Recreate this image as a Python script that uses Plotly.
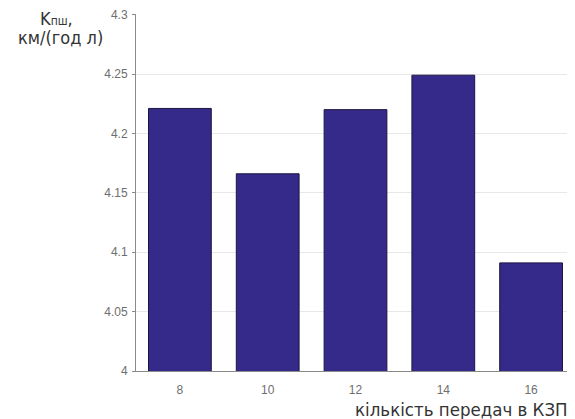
import plotly.graph_objects as go

gears = [8, 10, 12, 14, 16]
kpsh = [4.221, 4.166, 4.220, 4.249, 4.091]
y_ticks = [4.0, 4.05, 4.1, 4.15, 4.2, 4.25, 4.3]
y_tick_labels = ["4", "4.05", "4.1", "4.15", "4.2", "4.25", "4.3"]
x_title = "кількість передач в КЗП"
y_title_1 = "K<span style='font-size:12px'>пш</span>,"
y_title_2 = "км/(год л)"

fig = go.Figure(go.Bar(
    x=gears, y=kpsh, width=1.43,
    marker=dict(color="#35298a", line=dict(color="#1c1640", width=1)),
))

title_font = dict(family="DejaVu Sans Condensed, DejaVu Sans", size=18, color="#333333")

# page body adds an 8px margin, so the figure is sized to fill the rest
fig.update_layout(
    width=567, height=411,
    margin=dict(l=128, r=0, t=6, b=48, autoexpand=False),
    paper_bgcolor="white", plot_bgcolor="white",
    showlegend=False,
    font=dict(family="Arial, Liberation Sans, sans-serif", size=12, color="#6e6e6e"),
    xaxis=dict(range=[7, 17], tickvals=gears, ticktext=[str(g) for g in gears],
               showgrid=False, zeroline=False, showline=True, linecolor="#8a8a8a",
               ticks="", ticklabelstandoff=8, tickfont=dict(size=12, color="#6e6e6e")),
    yaxis=dict(range=[4.0, 4.3005], tickvals=y_ticks, ticktext=y_tick_labels,
               showgrid=True, gridcolor="#e8e8e8", zeroline=False,
               showline=True, linecolor="#8a8a8a", ticks="outside", ticklen=3,
               tickcolor="#8a8a8a", ticklabelstandoff=2, ticklabeloverflow="allow",
               tickfont=dict(size=12, color="#6e6e6e")),
    annotations=[
        dict(text=y_title_1, xref="paper", yref="paper", x=-0.18, y=0.986,
             xanchor="center", yanchor="middle", showarrow=False, font=title_font),
        dict(text=y_title_2, xref="paper", yref="paper", x=-0.173, y=0.933,
             xanchor="center", yanchor="middle", showarrow=False, font=title_font),
        dict(text=x_title, xref="paper", yref="paper", x=0.9886, y=-0.108,
             xanchor="right", yanchor="middle", showarrow=False,
             font=dict(family="DejaVu Sans Condensed, DejaVu Sans", size=18.5, color="#333333")),
    ],
)

fig.write_html("out.html")
